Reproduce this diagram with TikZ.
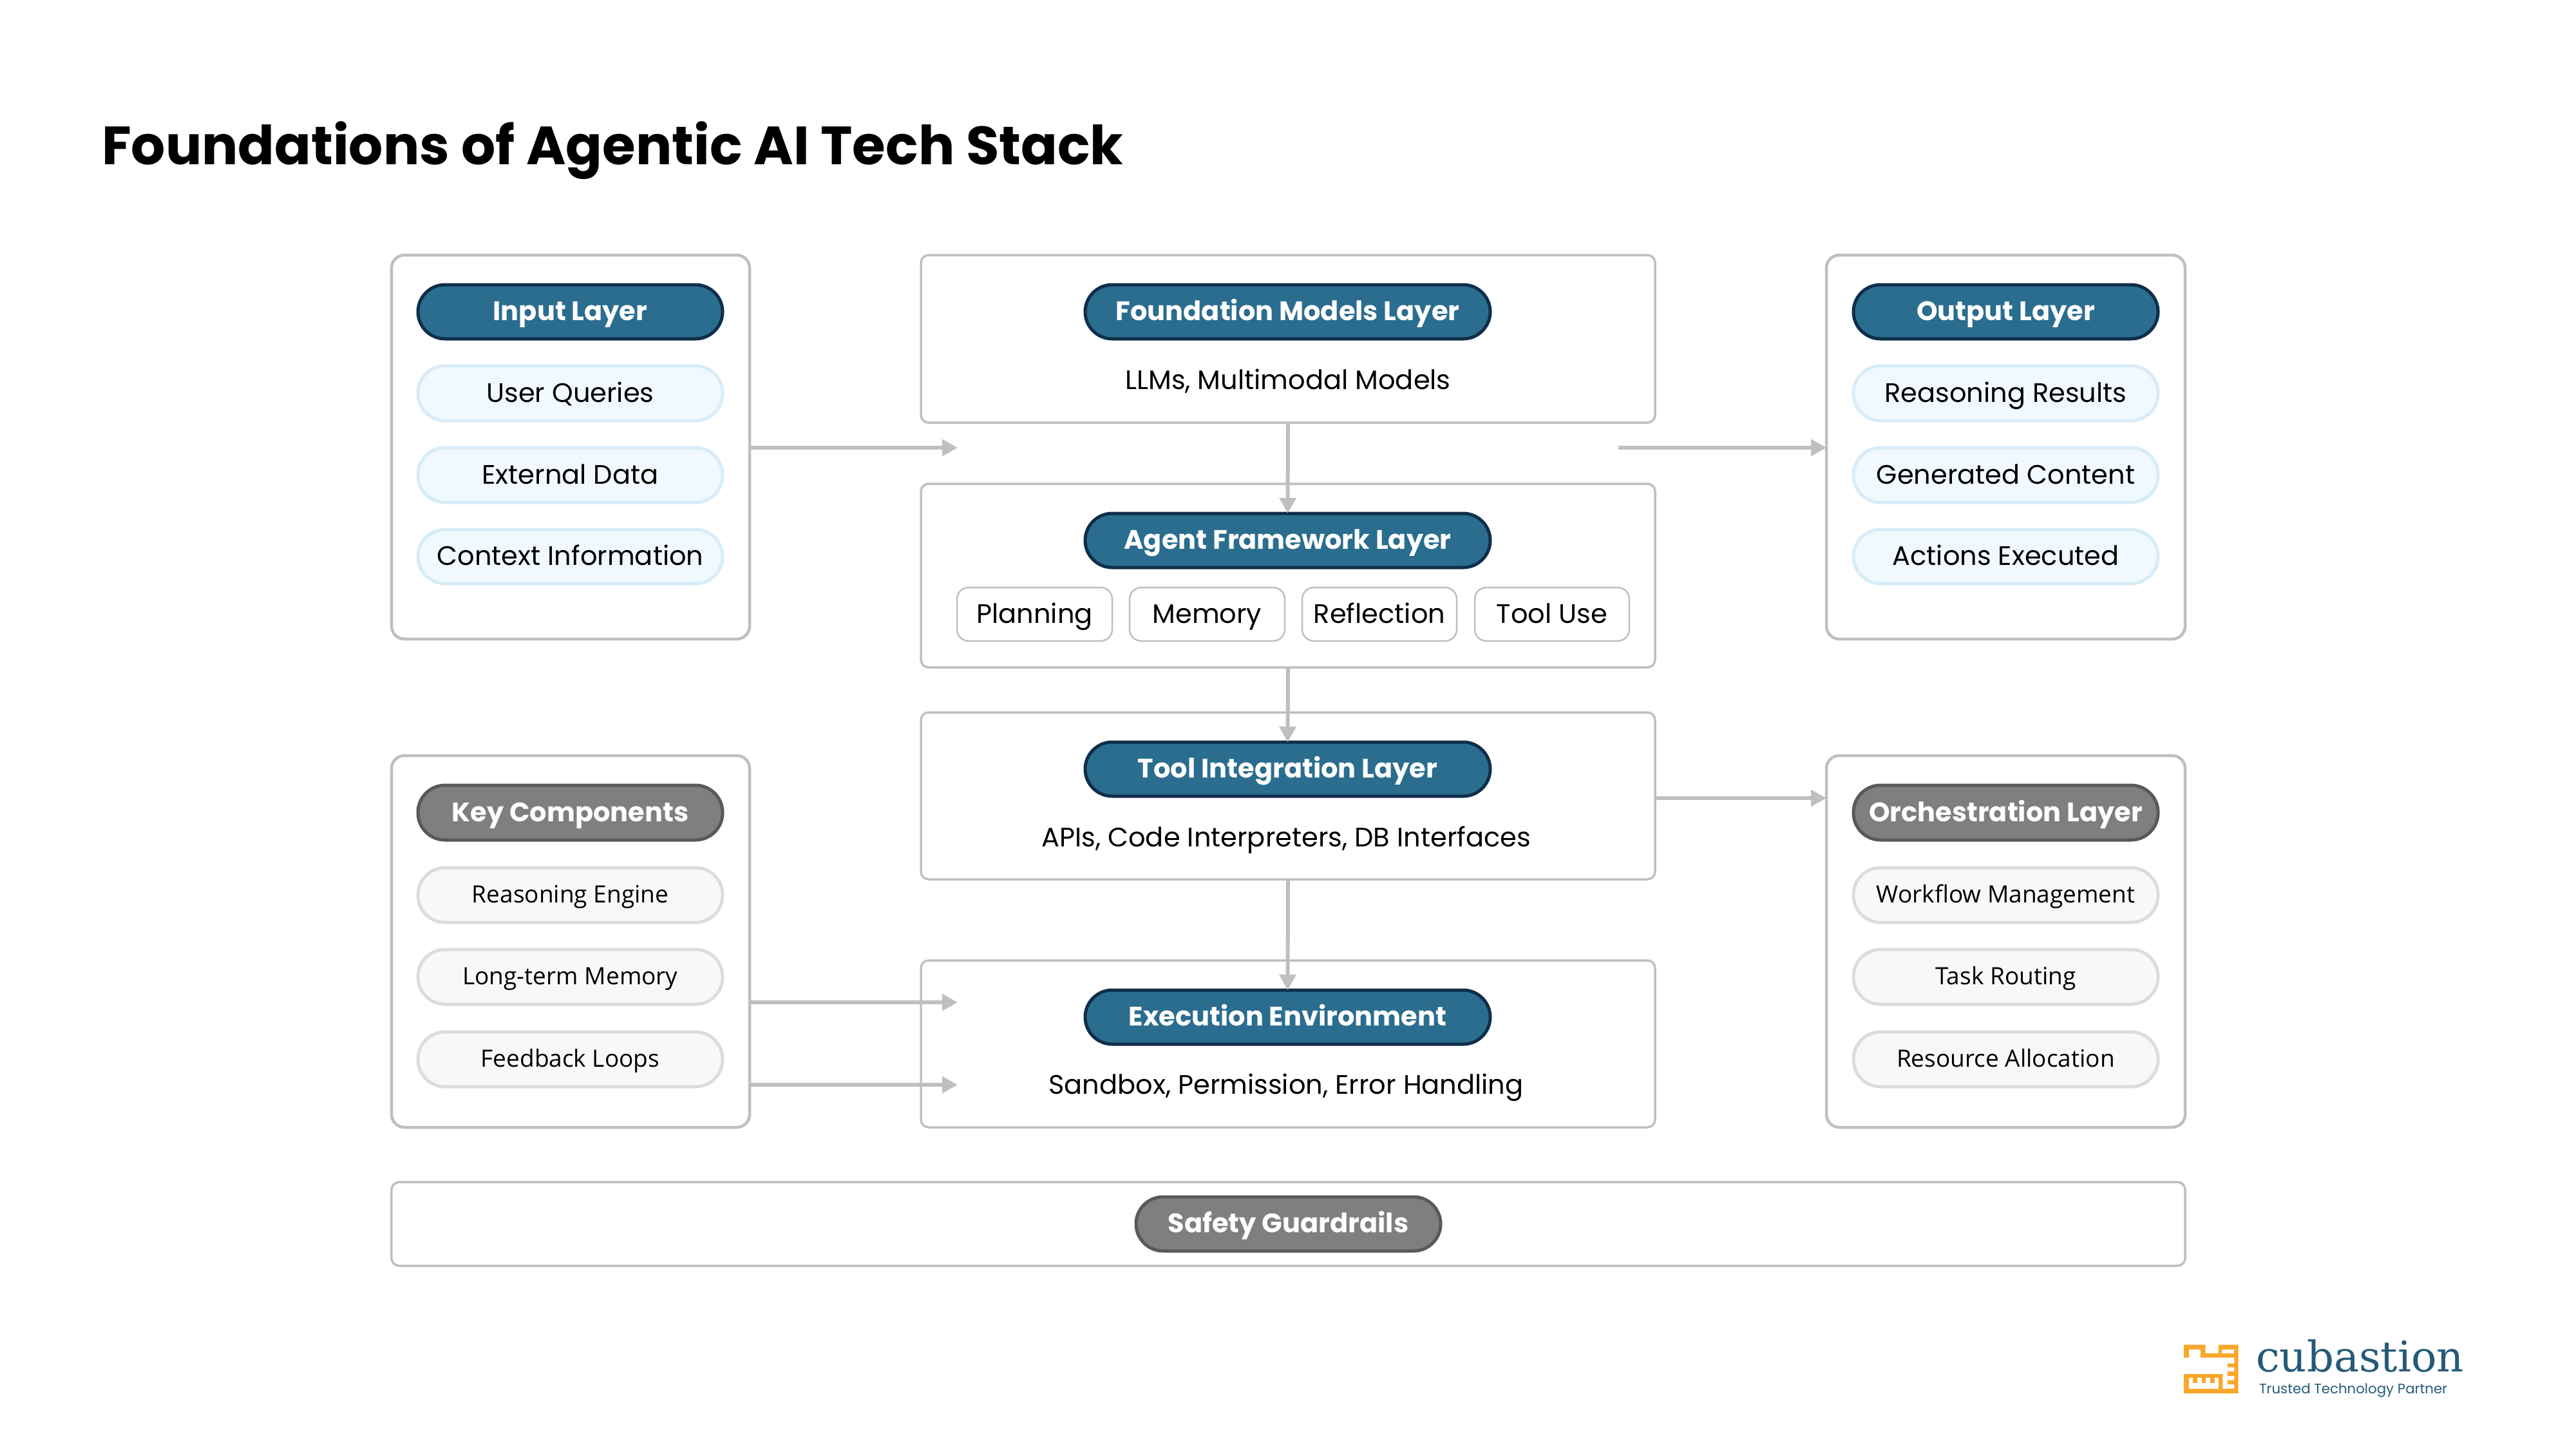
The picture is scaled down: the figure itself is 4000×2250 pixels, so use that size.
\documentclass[tikz,border=0pt]{standalone}
\usepackage{fontspec}
\setmainfont{Poppins}
\newfontfamily\noto{Open Sans}
\newfontfamily\slab{DejaVu Serif}
\usetikzlibrary{arrows.meta}
\definecolor{panelc}{HTML}{BFBFBF}
\definecolor{tealf}{HTML}{2A6D8F}
\definecolor{teald}{HTML}{0F2E4A}
\definecolor{lbf}{HTML}{F0F9FF}
\definecolor{lbd}{HTML}{D8ECF8}
\definecolor{grf}{HTML}{7F7F7F}
\definecolor{grd}{HTML}{595959}
\definecolor{lgf}{HTML}{F8F8F8}
\definecolor{lgd}{HTML}{DCDCDC}
\definecolor{logoo}{HTML}{F9A72B}
\definecolor{logob}{HTML}{255A78}
\newcommand{\fpx}[1]{\pgfmathsetmacro{\fsz}{#1*0.2845}\fontsize{\fsz}{\fsz}\selectfont}
\newcommand{\nd}[7][]{%
  \pgfmathsetmacro{\ww}{(#5-#3)*0.01}\pgfmathsetmacro{\hh}{(#6-#4)*0.01}%
  \node[#1,minimum width=\ww cm,minimum height=\hh cm] (#2) at ({(#3+#5)/2},{(#4+#6)/2}) {#7};}
\tikzset{
  x=0.01cm,y=-0.01cm,
  base/.style={inner sep=0pt,outer sep=0pt,text height=0.9em,text depth=0.12em},
  panel/.style={base,draw=panelc,line width=0.045cm,rounded corners=0.2cm,fill=white},
  cpanel/.style={base,draw=panelc,line width=0.035cm,rounded corners=0.12cm,fill=white},
  sbox/.style={base,draw=panelc,line width=0.025cm,rounded corners=0.18cm,fill=white,font=\fpx{41.5}},
  tpill/.style={base,draw=teald,line width=0.05cm,fill=tealf,rounded corners=0.42cm,text=white,font=\bfseries\fpx{41.5}},
  gpill/.style={base,draw=grd,line width=0.05cm,fill=grf,rounded corners=0.42cm,text=white,font=\bfseries\fpx{41.5}},
  bitem/.style={base,draw=lbd,line width=0.05cm,fill=lbf,rounded corners=0.42cm,font=\fpx{41.5}},
  gitem/.style={base,text height=0.82em,draw=lgd,line width=0.05cm,fill=lgf,rounded corners=0.42cm,font=\noto\fpx{37}},
  lbl/.style={inner sep=0pt,outer sep=0pt,font=\fpx{41.5}},
  conn/.style={draw=panelc,line width=0.06cm,-{Triangle[length=0.24cm,width=0.25cm]}}
}
\begin{document}
\begin{tikzpicture}
\useasboundingbox (0,0) rectangle (4000,2250);
\node[inner sep=0pt,outer sep=0pt,anchor=base west,font=\bfseries\fpx{83.6}] (title) at (158,255) {Foundations of Agentic AI Tech Stack};
% panels
\nd[panel]{input}{608}{396}{1164}{992}{}
\nd[panel]{output}{2836}{396}{3393}{992}{}
\nd[panel]{keyc}{608}{1173}{1164}{1750}{}
\nd[panel]{orch}{2836}{1173}{3393}{1750}{}
\nd[cpanel]{found}{1430}{396}{2570}{656}{}
\nd[cpanel]{agent}{1430}{751}{2570}{1036}{}
\nd[cpanel]{tool}{1430}{1106}{2570}{1365}{}
\nd[cpanel]{exec}{1430}{1491}{2570}{1750}{}
\nd[cpanel]{safety}{608}{1835}{3393}{1965}{}
% input
\nd[tpill]{inh}{649}{442}{1122}{526}{Input Layer}
\nd[bitem]{in1}{649}{568}{1122}{653}{User Queries}
\nd[bitem]{in2}{649}{695}{1122}{780}{External Data}
\nd[bitem]{in3}{649}{822}{1122}{906}{Context Information}
% output
\nd[tpill]{outh}{2878}{442}{3351}{526}{Output Layer}
\nd[bitem]{out1}{2878}{568}{3351}{653}{Reasoning Results}
\nd[bitem]{out2}{2878}{695}{3351}{780}{Generated Content}
\nd[bitem]{out3}{2878}{822}{3351}{906}{Actions Executed}
% key
\nd[gpill]{keyh}{649}{1219}{1122}{1304}{Key Components}
\nd[gitem]{key1}{649}{1347}{1122}{1432}{Reasoning Engine}
\nd[gitem]{key2}{649}{1474}{1122}{1559}{Long-term Memory}
\nd[gitem]{key3}{649}{1602}{1122}{1687}{Feedback Loops}
% orchestration
\nd[gpill]{orh}{2878}{1219}{3351}{1304}{Orchestration Layer}
\nd[gitem]{or1}{2878}{1347}{3351}{1432}{Workflow Management}
\nd[gitem]{or2}{2878}{1474}{3351}{1559}{Task Routing}
\nd[gitem]{or3}{2878}{1602}{3351}{1687}{Resource Allocation}
% centre
\nd[tpill]{fh}{1685}{442}{2314}{526}{Foundation Models Layer}
\node[lbl] (ft) at (2000,592) {LLMs, Multimodal Models};
\nd[tpill]{ah}{1685}{797}{2314}{881}{Agent Framework Layer}
\nd[sbox]{s1}{1486}{912}{1727}{995}{Planning}
\nd[sbox]{s2}{1754}{912}{1995}{995}{Memory}
\nd[sbox]{s3}{2022}{912}{2262}{995}{Reflection}
\nd[sbox]{s4}{2290}{912}{2530}{995}{Tool Use}
\nd[tpill]{th}{1685}{1152}{2314}{1236}{Tool Integration Layer}
\node[lbl] (tt) at (1997,1304) {APIs, Code Interpreters, DB Interfaces};
\nd[tpill]{eh}{1685}{1537}{2314}{1621}{Execution Environment}
\node[lbl] (et) at (1997,1688) {Sandbox, Permission, Error Handling};
\nd[gpill]{sh}{1764}{1858}{2237}{1942}{Safety Guardrails}
% connectors
\coordinate (e1) at (1487,695);
\coordinate (s2) at (2513,695);
\coordinate (e3) at (2835,1239);
\coordinate (e4) at (1487,1556);
\coordinate (e5) at (1487,1684);
\draw[conn] (input.east |- e1) -- (e1);
\draw[conn] (s2) -- (output.west |- s2);
\draw[conn] (tool.east |- e3) -- (orch.west |- e3);
\draw[conn] (keyc.east |- e4) -- (e4);
\draw[conn] (keyc.east |- e5) -- (e5);
\draw[conn] (found.south) -- (ah.north);
\draw[conn] (agent.south) -- (th.north);
\draw[conn] (tool.south) -- (eh.north);
% logo
\begin{scope}[shift={(3300,2020)},x=0.003827cm,y=-0.003333cm]
\fill[logoo] (238,203) -- (325,203) -- (325,243) -- (378,243) -- (378,203) -- (458,203) -- (458,430) -- (238,430) -- (238,340) -- (395,340) -- (395,408) -- (442,408) -- (442,388) -- (415,388) -- (415,368) -- (442,368) -- (442,348) -- (415,348) -- (415,328) -- (442,328) -- (442,308) -- (415,308) -- (415,290) -- (442,290) -- (442,263) -- (390,263) -- (390,263) -- (305,263) -- (305,225) -- (258,225) -- (258,263) -- (238,263) -- cycle;
\fill[white] (392,225) rectangle (442,243);
\fill[white] (258,382) rectangle (378,408);
\fill[white] (258,358) rectangle (275,382);
\fill[white] (292,358) rectangle (310,382);
\fill[white] (325,358) rectangle (345,382);
\fill[white] (362,358) rectangle (378,382);
\end{scope}
\node[inner sep=0pt,outer sep=0pt,anchor=base west,text=logob,font=\slab\fpx{65.6}] (brand) at (3503,2129) {cubastion};
\node[inner sep=0pt,outer sep=0pt,anchor=base west,text=logob,font=\fpx{21.3}] (tag) at (3508,2163) {Trusted Technology Partner};
\end{tikzpicture}
\end{document}
